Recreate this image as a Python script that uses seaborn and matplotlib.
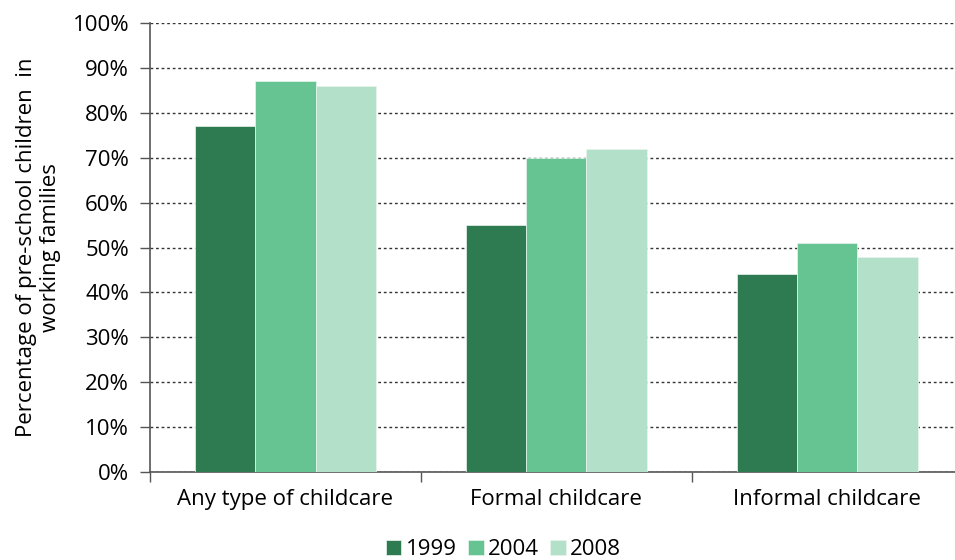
import numpy as np
import pandas as pd
import matplotlib
matplotlib.use("Agg")
import matplotlib.pyplot as plt
import matplotlib.ticker as mticker
import seaborn as sns

# ── Data ─────────────────────────────────────────────────────────────────────
CATEGORIES = ["Any type of childcare", "Formal childcare", "Informal childcare"]
YEARS = ["1999", "2004", "2008"]
VALUES_1999 = [77, 55, 44]
VALUES_2004 = [87, 70, 51]
VALUES_2008 = [86, 72, 48]

COLORS = ["#2E7B52", "#66C493", "#B2E0C8"]

rows = []
for year, vals in zip(YEARS, [VALUES_1999, VALUES_2004, VALUES_2008]):
    for cat, v in zip(CATEGORIES, vals):
        rows.append({"category": cat, "year": year, "pct": v})
df = pd.DataFrame(rows)

# ── Plot ─────────────────────────────────────────────────────────────────────
sns.set_style("white")
plt.rcParams["font.family"] = ["Open Sans", "DejaVu Sans"]
plt.rcParams["text.color"] = "black"

FS = 16

fig = plt.figure(figsize=(9.55, 5.6), dpi=100)
ax = fig.add_axes([0.157, 0.157, 0.851, 0.802])

sns.barplot(data=df, x="category", y="pct", hue="year", order=CATEGORIES,
            hue_order=YEARS, palette=COLORS, width=0.667, gap=0,
            saturation=1, errorbar=None, ax=ax, zorder=3, linewidth=0.5,
            edgecolor="#E8F5EE")

ax.set_xlim(-0.5, 2.5)
ax.set_ylim(0, 100)
ax.yaxis.set_major_locator(mticker.MultipleLocator(10))
ax.yaxis.set_major_formatter(mticker.PercentFormatter(decimals=0))
ax.grid(axis="y", linestyle=(0, (2, 2)), color="#333333", linewidth=1, zorder=0)
ax.set_axisbelow(True)

for side in ["top", "right"]:
    ax.spines[side].set_visible(False)
for side in ["left", "bottom"]:
    ax.spines[side].set_color("#555555")
    ax.spines[side].set_linewidth(1.2)

ax.tick_params(axis="y", length=7, width=1, color="#555555", labelsize=FS,
               labelcolor="black", left=True, pad=8)
ax.tick_params(axis="x", which="major", length=0, labelsize=FS,
               labelcolor="black", pad=12)
ax.set_xticks([-0.5, 0.5, 1.5, 2.5], minor=True)
ax.tick_params(axis="x", which="minor", length=7, width=1, color="#555555",
               bottom=True)

ax.set_xlabel("")
ax.set_ylabel("Percentage of pre-school children  in\nworking families",
              fontsize=FS, labelpad=8, color="black")

ax.legend(loc="upper center", bbox_to_anchor=(0.435, -0.15), ncol=3,
          frameon=False, fontsize=FS, handlelength=0.7, handleheight=0.7,
          handletextpad=0.2, columnspacing=0.5, borderaxespad=0,
          borderpad=0)

fig.savefig("out.png", dpi=100)
